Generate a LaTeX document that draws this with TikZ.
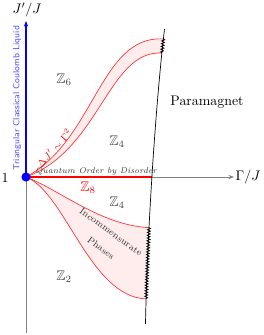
\documentclass[tikz,border=0pt]{standalone}
\usepackage{amssymb}
\usetikzlibrary{decorations.pathmorphing,arrows.meta}
\begin{document}
\begin{tikzpicture}[x=0.72pt,y=-0.72pt,
  band/.style={draw=red!80,line width=0.5pt},
  bandfill/.style={fill=red!7},
  zlab/.style={text=black!75},
  axisline/.style={draw=gray,line width=0.7pt},
  zz/.style={decorate,decoration={zigzag,segment length=2pt,amplitude=1.1pt},line width=0.5pt},
  smalllab/.style={font=\fontsize{6.6}{7}\selectfont,text=black!80},
]
\useasboundingbox (0,0) rectangle (264,335);
\coordinate (O) at (26,177);
\coordinate (T) at (164.5,29);
\coordinate (B) at (145.5,324);
\coordinate (Ytop) at (26,21);
\coordinate (Ybot) at (26,333);
\coordinate (Xend) at (234,177);
\path (T) .. controls (155,110) and (147,240) .. (B)
  coordinate[pos=0.04] (u1) coordinate[pos=0.094] (u2) coordinate[pos=0.503] (X)
  coordinate[pos=0.665] (l1) coordinate[pos=0.905] (l2);
% bands fill
\fill[bandfill] (O) .. controls (95,140) and (100,35) .. (u1) -- (u2)
  .. controls (108,50) and (100,150) .. (O) -- cycle;
\fill[bandfill] (O) .. controls (60,190) and (100,225) .. (l1) -- (l2)
  .. controls (90,297) and (65,192) .. (O) -- cycle;
% band curves
\draw[band] (O) .. controls (95,140) and (100,35) .. (u1);
\draw[band] (O) .. controls (100,150) and (108,50) .. (u2);
\draw[band] (O) .. controls (60,190) and (100,225) .. (l1);
\draw[band] (O) .. controls (65,192) and (90,297) .. (l2);
% axes
\draw[axisline] (O) -- (Ybot);
\draw[axisline,-{Stealth[length=4pt,width=3pt]}] (O) -- (Xend);
\draw[red,line width=1.6pt] (O) -- (O -| X);
\draw[blue,line width=1.1pt,-{Stealth[length=4pt,width=3pt]}] (O) -- (Ytop);
% boundary
\draw[line width=0.5pt] (T) .. controls (155,110) and (147,240) .. (B);
\draw[zz] (u1) -- (u2);
\draw[zz] (l1) -- (l2);
\fill[blue] (O) circle (3.3pt);
% labels
\node (jl) at (27,10) {$J'/J$};
\node (gl) at (248,177) {$\Gamma/J$};
\node (one) at (5,178) {$1$};
\node[zlab] (z6) at (64,80) {$\mathbb{Z}_6$};
\node[zlab] (z4a) at (117,142) {$\mathbb{Z}_4$};
\node[text=red] (z8) at (88,188) {$\mathbb{Z}_8$};
\node[zlab] (z4b) at (117,203) {$\mathbb{Z}_4$};
\node[zlab] (z2) at (64,277) {$\mathbb{Z}_2$};
\node (pm) at (207,102) {Paramagnet};
\node[text=red,rotate=48,font=\scriptsize] (dj) at (54,148) {$\Delta J'\sim\Gamma^2$};
\node[font=\fontsize{6}{7}\selectfont\itshape,text=black!80] (qo) at (96,171) {Quantum Order by Disorder};
\node[smalllab,rotate=-36] (inc) at (111,232) {Incommensurate};
\node[smalllab,rotate=-36] (ph) at (101,248) {Phases};
\node[rotate=90,text=blue!70,font=\fontsize{6.5}{7}\selectfont\sffamily] (tl) at (17,98) {Triangular Classical Coulomb Liquid};
\end{tikzpicture}
\end{document}
